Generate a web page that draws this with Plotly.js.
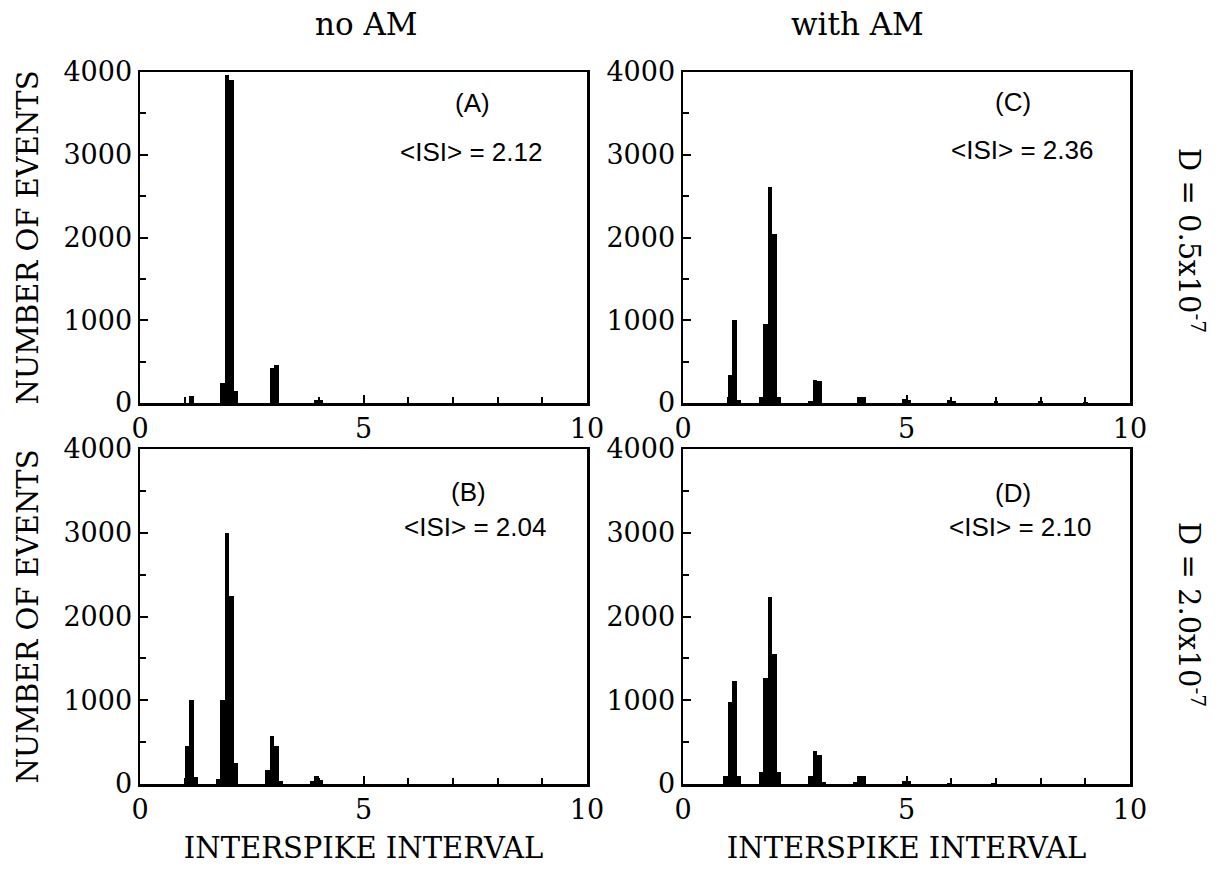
<!DOCTYPE html>
<html>
<head>
<meta charset="utf-8">
<script src="https://cdn.plot.ly/plotly-3.0.1.min.js"></script>
<style>html,body{margin:0;padding:0;background:#fff;}</style>
</head>
<body>
<div id="chart" style="width:1223px;height:872px;"></div>
<script>
// Panel A: no AM, D = 0.5x10^-7
const xA = [1.15, 1.85, 1.95, 2.05, 2.15, 2.95, 3.05, 3.95, 4.05];
const yA = [80, 240, 3960, 3900, 150, 420, 460, 40, 40];
// Panel B: no AM, D = 2.0x10^-7
const xB = [1.05, 1.15, 1.25, 1.75, 1.85, 1.95, 2.05, 2.15, 2.85, 2.95, 3.05, 3.15, 3.85, 3.95, 4.05];
const yB = [450, 1000, 80, 60, 1000, 3000, 2240, 250, 170, 570, 450, 40, 30, 100, 50];
// Panel C: with AM, D = 0.5x10^-7
const xC = [1.05, 1.15, 1.25, 1.75, 1.85, 1.95, 2.05, 2.15, 2.85, 2.95, 3.05, 3.95, 4.05, 4.95, 5.05, 5.95, 6.05, 7.0, 8.0, 9.0];
const yC = [340, 1000, 40, 70, 950, 2610, 2040, 70, 20, 280, 265, 70, 70, 45, 40, 35, 30, 25, 20, 15];
// Panel D: with AM, D = 2.0x10^-7
const xD = [0.95, 1.05, 1.15, 1.25, 1.75, 1.85, 1.95, 2.05, 2.15, 2.85, 2.95, 3.05, 3.15, 3.85, 3.95, 4.05, 4.95, 5.05, 5.95, 6.95];
const yD = [90, 980, 1230, 100, 140, 1260, 2230, 1550, 140, 100, 390, 350, 20, 25, 90, 90, 40, 30, 15, 10];

const panelLabels = ["(A)", "(B)", "(C)", "(D)"];
const isiLabels = ["&lt;ISI&gt; = 2.12", "&lt;ISI&gt; = 2.04", "&lt;ISI&gt; = 2.36", "&lt;ISI&gt; = 2.10"];
const columnTitles = ["no AM", "with AM"];
const rowTitles = ["D = 0.5x10<sup>-7</sup>", "D = 2.0x10<sup>-7</sup>"];
const xTitle = "INTERSPIKE INTERVAL";
const yTitle = "NUMBER OF EVENTS";

const W = 1223, H = 872;
const px = v => v / W;
const py = v => 1 - v / H;

const barWidth = 0.1;
function barTrace(x, y, xa, ya) {
  return {type: 'bar', x: x, y: y, xaxis: xa, yaxis: ya, width: barWidth,
          marker: {color: '#000', line: {width: 0}}, showlegend: false, hoverinfo: 'x+y'};
}

const serif = 'DejaVu Serif, Liberation Serif, serif';
const sans = 'Liberation Sans, Arial, sans-serif';

function xAxis(domain, anchor, showTitle) {
  const a = {
    domain: domain, anchor: anchor, range: [0, 10], dtick: 5, tick0: 0,
    ticks: 'inside', ticklen: 8, tickwidth: 2, tickcolor: '#000',
    minor: {dtick: 1, ticks: 'inside', ticklen: 6, tickwidth: 2, tickcolor: '#000', showgrid: false},
    showline: true, linewidth: 2.5, linecolor: '#000', mirror: true,
    showgrid: false, zeroline: false,
    tickfont: {family: serif, size: 27, color: '#000'}
  };
  if (showTitle) a.title = {text: xTitle, font: {family: serif, size: 29, color: '#000'}, standoff: 14};
  return a;
}
function yAxis(domain, anchor, showTitle) {
  const a = {
    domain: domain, anchor: anchor, range: [0, 4000], dtick: 1000, tick0: 0,
    ticks: 'inside', ticklen: 8, tickwidth: 2, tickcolor: '#000',
    minor: {dtick: 500, ticks: 'inside', ticklen: 6, tickwidth: 2, tickcolor: '#000', showgrid: false},
    showline: true, linewidth: 2.5, linecolor: '#000', mirror: true,
    showgrid: false, zeroline: false,
    tickfont: {family: serif, size: 27, color: '#000'}
  };
  if (showTitle) a.title = {text: yTitle, font: {family: serif, size: 29, color: '#000'}, standoff: 16};
  return a;
}

const colL = [px(140), px(587)];
const colR = [px(683), px(1130)];
const rowT = [py(403), py(72)];
const rowB = [py(784), py(449)];

const data = [
  barTrace(xA, yA, 'x', 'y'),
  barTrace(xB, yB, 'x2', 'y2'),
  barTrace(xC, yC, 'x3', 'y3'),
  barTrace(xD, yD, 'x4', 'y4')
];

const annPos = [
  {lab: [472, 103], isi: [471, 152]},
  {lab: [468, 492], isi: [475, 527]},
  {lab: [1013, 102], isi: [1022, 150]},
  {lab: [1013, 493], isi: [1020, 527]}
];
const annotations = [];
annPos.forEach((p, i) => {
  annotations.push({xref: 'paper', yref: 'paper', x: px(p.lab[0]), y: py(p.lab[1]),
    text: panelLabels[i], showarrow: false, xanchor: 'center', yanchor: 'middle',
    font: {family: sans, size: 26, color: '#000'}});
  annotations.push({xref: 'paper', yref: 'paper', x: px(p.isi[0]), y: py(p.isi[1]),
    text: isiLabels[i], showarrow: false, xanchor: 'center', yanchor: 'middle',
    font: {family: sans, size: 26, color: '#000'}});
});
annotations.push({xref: 'paper', yref: 'paper', x: px(366), y: py(24), text: columnTitles[0],
  showarrow: false, xanchor: 'center', yanchor: 'middle', font: {family: serif, size: 31, color: '#000'}});
annotations.push({xref: 'paper', yref: 'paper', x: px(857), y: py(24), text: columnTitles[1],
  showarrow: false, xanchor: 'center', yanchor: 'middle', font: {family: serif, size: 31, color: '#000'}});
annotations.push({xref: 'paper', yref: 'paper', x: px(1191), y: py(240), text: rowTitles[0],
  showarrow: false, textangle: 90, xanchor: 'center', yanchor: 'middle', font: {family: serif, size: 29, color: '#000'}});
annotations.push({xref: 'paper', yref: 'paper', x: px(1191), y: py(614), text: rowTitles[1],
  showarrow: false, textangle: 90, xanchor: 'center', yanchor: 'middle', font: {family: serif, size: 29, color: '#000'}});

const layout = {
  width: W, height: H,
  margin: {l: 0, r: 0, t: 0, b: 0},
  paper_bgcolor: '#fff', plot_bgcolor: '#fff',
  showlegend: false, bargap: 0,
  xaxis: xAxis(colL, 'y', false),
  yaxis: yAxis(rowT, 'x', true),
  xaxis2: xAxis(colL, 'y2', true),
  yaxis2: yAxis(rowB, 'x2', true),
  xaxis3: xAxis(colR, 'y3', false),
  yaxis3: yAxis(rowT, 'x3', false),
  xaxis4: xAxis(colR, 'y4', true),
  yaxis4: yAxis(rowB, 'x4', false),
  annotations: annotations
};

Plotly.newPlot('chart', data, layout, {displayModeBar: false, staticPlot: true});
</script>
</body>
</html>
